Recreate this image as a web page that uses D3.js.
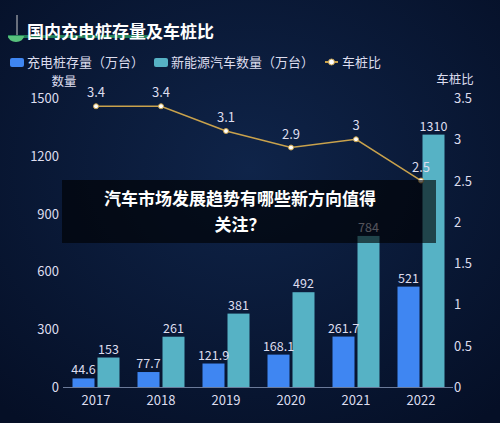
<!DOCTYPE html><html><head><meta charset="utf-8"><script src="https://cdn.jsdelivr.net/npm/d3@7"></script>
<style>body{margin:0;background:#071633}svg{display:block;font-family:"Noto Sans CJK SC","Noto Sans",sans-serif}</style></head><body>
<svg id="c" width="500" height="423"></svg>
<script>
const years=["2017","2018","2019","2020","2021","2022"];
const piles=[44.6,77.7,121.9,168.1,261.7,521];
const evs=[153,261,381,492,784,1310];
const ratio=[3.4,3.4,3.1,2.9,3,2.5];
const leftTicks=[0,300,600,900,1200,1500];
const rightTicks=[0,0.5,1,1.5,2,2.5,3,3.5];
const svg=d3.select("#c");
const defs=svg.append("defs");
const g=defs.append("radialGradient").attr("id","bg").attr("cx","50%").attr("cy","40%").attr("r","75%");
g.append("stop").attr("offset","0").attr("stop-color","#0f2449");
g.append("stop").attr("offset","1").attr("stop-color","#050f26");
svg.append("rect").attr("width",500).attr("height",423).attr("fill","url(#bg)");
const x=d3.scaleBand().domain(years).range([63,453]).padding(0);
const y=d3.scaleLinear().domain([0,1500]).range([387,98]);
const y2=d3.scaleLinear().domain([0,3.5]).range([387,98]);
// title
svg.append("rect").attr("x",8).attr("y",35).attr("width",140).attr("height",3).attr("fill","#2fae6a").attr("opacity",0.7);
svg.append("path").attr("d","M8,36 a8,6 0 0 0 16,0z").attr("fill","#58c27d");
svg.append("line").attr("x1",17).attr("y1",15).attr("x2",17).attr("y2",35).attr("stroke","#ccc");
svg.append("text").attr("x",27).attr("y",38).attr("fill","#fff").attr("font-size",17).attr("font-weight","bold").text("国内充电桩存量及车桩比");
// legend
const lg=svg.append("g").attr("font-size",13).attr("fill","#dde");
lg.append("rect").attr("x",10).attr("y",58).attr("width",14).attr("height",9).attr("rx",2).attr("fill","#3f86f2");
lg.append("text").attr("x",27).attr("y",67).attr("fill","#dde").text("充电桩存量（万台）");
lg.append("rect").attr("x",154).attr("y",58).attr("width",14).attr("height",9).attr("rx",2).attr("fill","#56b2c5");
lg.append("text").attr("x",171).attr("y",67).attr("fill","#dde").text("新能源汽车数量（万台）");
lg.append("line").attr("x1",325).attr("x2",338).attr("y1",62).attr("y2",62).attr("stroke","#c9a24c").attr("stroke-width",2);
lg.append("circle").attr("cx",331.5).attr("cy",62).attr("r",3).attr("fill","#fff").attr("stroke","#c9a24c");
lg.append("text").attr("x",342).attr("y",67).attr("fill","#dde").text("车桩比");
svg.append("text").attr("x",64).attr("y",86).attr("fill","#dde").attr("font-size",12.5).attr("text-anchor","middle").text("数量");
svg.append("text").attr("x",455).attr("y",84).attr("fill","#dde").attr("font-size",12.5).attr("text-anchor","middle").text("车桩比");
// axes
svg.append("g").selectAll("text").data(leftTicks).join("text").attr("x",59).attr("y",d=>y(d)+5).attr("text-anchor","end").attr("fill","#dde").attr("font-size",13).text(d=>d);
svg.append("g").selectAll("text").data(rightTicks).join("text").attr("x",454).attr("y",d=>y2(d)+5).attr("fill","#dde").attr("font-size",13).text(d=>d);
svg.append("line").attr("x1",63).attr("x2",453).attr("y1",387.5).attr("y2",387.5).attr("stroke","#6b7a99");
svg.append("g").selectAll("text").data(years).join("text").attr("x",d=>x(d)+33).attr("y",405).attr("text-anchor","middle").attr("fill","#dde").attr("font-size",13).text(d=>d);
const cx=d=>x(d)+33;
const bw=22;
svg.append("g").selectAll("rect").data(years).join("rect").attr("x",(d)=>cx(d)-bw-1.5).attr("width",bw).attr("y",(d,i)=>y(piles[i])).attr("height",(d,i)=>387-y(piles[i])).attr("fill","#3f86f2");
svg.append("g").selectAll("rect").data(years).join("rect").attr("x",(d)=>cx(d)+1.5).attr("width",bw).attr("y",(d,i)=>y(evs[i])).attr("height",(d,i)=>387-y(evs[i])).attr("fill","#56b2c5");
svg.append("g").selectAll("text").data(years).join("text").attr("x",d=>cx(d)-bw/2-1.5).attr("y",(d,i)=>y(piles[i])-4).attr("text-anchor","middle").attr("fill","#dde").attr("font-size",12.5).text((d,i)=>piles[i]);
svg.append("g").selectAll("text").data(years).join("text").attr("x",d=>cx(d)+bw/2+1.5).attr("y",(d,i)=>y(evs[i])-4).attr("text-anchor","middle").attr("fill","#dde").attr("font-size",12.5).text((d,i)=>evs[i]);
const line=d3.line().x((d,i)=>cx(years[i])).y(d=>y2(d));
svg.append("path").attr("d",line(ratio)).attr("fill","none").attr("stroke","#c9a24c").attr("stroke-width",1.5);
svg.append("g").selectAll("circle").data(ratio).join("circle").attr("cx",(d,i)=>cx(years[i])).attr("cy",d=>y2(d)).attr("r",2.5).attr("fill","#fff").attr("stroke","#c9a24c");
svg.append("g").selectAll("text").data(ratio).join("text").attr("x",(d,i)=>cx(years[i])).attr("y",d=>y2(d)-9).attr("text-anchor","middle").attr("fill","#dde").attr("font-size",13).text(d=>d);
// overlay
svg.append("rect").attr("x",62).attr("y",180).attr("width",374).attr("height",63).attr("fill","rgba(0,0,0,0.62)");
svg.append("text").attr("x",240).attr("y",205).attr("text-anchor","middle").attr("fill","#fff").attr("font-size",17).attr("font-weight","bold").text("汽车市场发展趋势有哪些新方向值得");
svg.append("text").attr("x",240).attr("y",231).attr("text-anchor","middle").attr("fill","#fff").attr("font-size",17).attr("font-weight","bold").text("关注？");
</script></body></html>
